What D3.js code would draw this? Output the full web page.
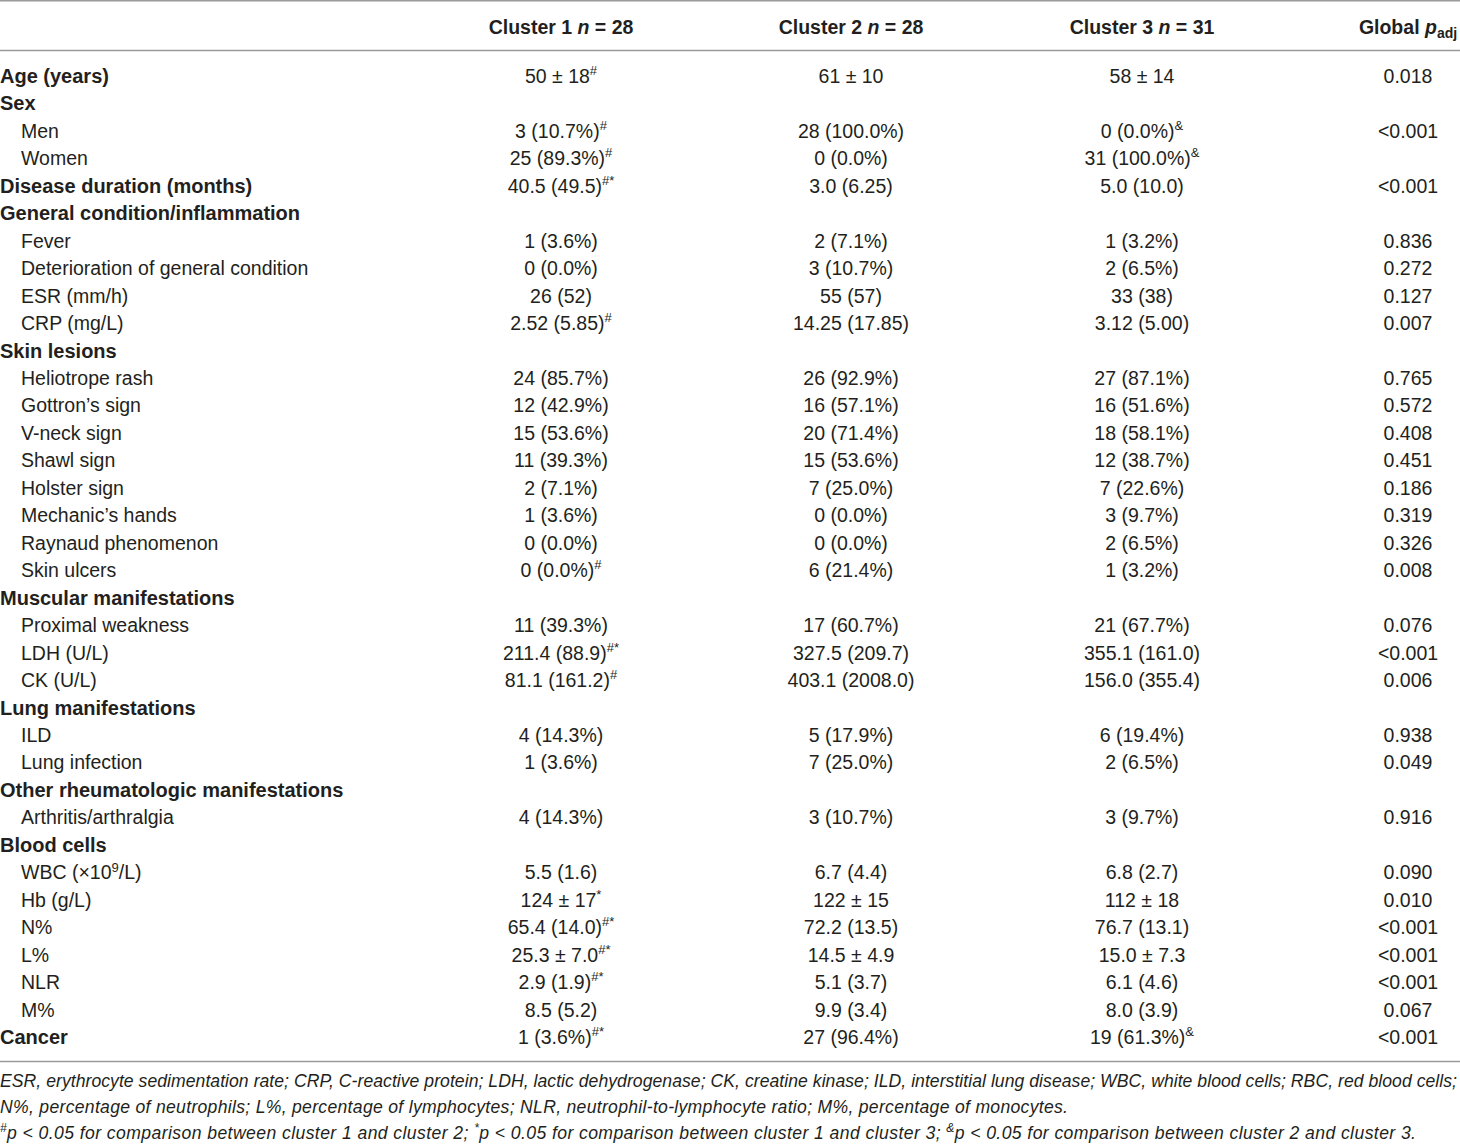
<!DOCTYPE html>
<html>
    <head>
        <title>Cluster table</title>
        <meta charset="utf-8" />
        <script src="https://d3js.org/d3.v7.min.js"></script>
        <style>
            body { margin: 0; background: #fff; }
            svg { display: block; font-family: 'Liberation Sans', Arial, sans-serif; }
        </style>
    </head>
    <body>
        <svg class="table"></svg>
        <script>
            // row labels, 0 = section heading, 1 = sub item
            const rowLabels = [
                'Age (years)', 'Sex', 'Men', 'Women', 'Disease duration (months)',
                'General condition/inflammation', 'Fever', 'Deterioration of general condition',
                'ESR (mm/h)', 'CRP (mg/L)', 'Skin lesions', 'Heliotrope rash', 'Gottron\u2019s sign',
                'V-neck sign', 'Shawl sign', 'Holster sign', 'Mechanic\u2019s hands',
                'Raynaud phenomenon', 'Skin ulcers', 'Muscular manifestations', 'Proximal weakness',
                'LDH (U/L)', 'CK (U/L)', 'Lung manifestations', 'ILD', 'Lung infection',
                'Other rheumatologic manifestations', 'Arthritis/arthralgia', 'Blood cells',
                'WBC (\u00d710^9/L)', 'Hb (g/L)', 'N%', 'L%', 'NLR', 'M%', 'Cancer'
            ]
            const rowLevels = [0, 0, 1, 1, 0, 0, 1, 1, 1, 1, 0, 1, 1, 1, 1, 1, 1, 1, 1, 0, 1, 1, 1, 0, 1, 1, 0, 1, 0, 1, 1, 1, 1, 1, 1, 0]

            // "^" marks superscript part
            const cluster1 = [
                '50 \u00b1 18^#', '', '3 (10.7%)^#', '25 (89.3%)^#', '40.5 (49.5)^#*',
                '', '1 (3.6%)', '0 (0.0%)', '26 (52)', '2.52 (5.85)^#',
                '', '24 (85.7%)', '12 (42.9%)', '15 (53.6%)', '11 (39.3%)', '2 (7.1%)',
                '1 (3.6%)', '0 (0.0%)', '0 (0.0%)^#', '', '11 (39.3%)', '211.4 (88.9)^#*',
                '81.1 (161.2)^#', '', '4 (14.3%)', '1 (3.6%)', '', '4 (14.3%)', '',
                '5.5 (1.6)', '124 \u00b1 17^*', '65.4 (14.0)^#*', '25.3 \u00b1 7.0^#*',
                '2.9 (1.9)^#*', '8.5 (5.2)', '1 (3.6%)^#*'
            ]
            const cluster2 = [
                '61 \u00b1 10', '', '28 (100.0%)', '0 (0.0%)', '3.0 (6.25)',
                '', '2 (7.1%)', '3 (10.7%)', '55 (57)', '14.25 (17.85)',
                '', '26 (92.9%)', '16 (57.1%)', '20 (71.4%)', '15 (53.6%)', '7 (25.0%)',
                '0 (0.0%)', '0 (0.0%)', '6 (21.4%)', '', '17 (60.7%)', '327.5 (209.7)',
                '403.1 (2008.0)', '', '5 (17.9%)', '7 (25.0%)', '', '3 (10.7%)', '',
                '6.7 (4.4)', '122 \u00b1 15', '72.2 (13.5)', '14.5 \u00b1 4.9',
                '5.1 (3.7)', '9.9 (3.4)', '27 (96.4%)'
            ]
            const cluster3 = [
                '58 \u00b1 14', '', '0 (0.0%)^&', '31 (100.0%)^&', '5.0 (10.0)',
                '', '1 (3.2%)', '2 (6.5%)', '33 (38)', '3.12 (5.00)',
                '', '27 (87.1%)', '16 (51.6%)', '18 (58.1%)', '12 (38.7%)', '7 (22.6%)',
                '3 (9.7%)', '2 (6.5%)', '1 (3.2%)', '', '21 (67.7%)', '355.1 (161.0)',
                '156.0 (355.4)', '', '6 (19.4%)', '2 (6.5%)', '', '3 (9.7%)', '',
                '6.8 (2.7)', '112 \u00b1 18', '76.7 (13.1)', '15.0 \u00b1 7.3',
                '6.1 (4.6)', '8.0 (3.9)', '19 (61.3%)^&'
            ]
            const pAdj = [
                '0.018', '', '<0.001', '', '<0.001',
                '', '0.836', '0.272', '0.127', '0.007',
                '', '0.765', '0.572', '0.408', '0.451', '0.186',
                '0.319', '0.326', '0.008', '', '0.076', '<0.001',
                '0.006', '', '0.938', '0.049', '', '0.916', '',
                '0.090', '0.010', '<0.001', '<0.001',
                '<0.001', '0.067', '<0.001'
            ]

            const columns = ['c1', 'c2', 'c3', 'p']
            const columnTitles = [
                ['Cluster 1 ', 'n', ' = 28'],
                ['Cluster 2 ', 'n', ' = 28'],
                ['Cluster 3 ', 'n', ' = 31'],
                ['Global ', 'p', 'adj']
            ]
            const footnotes = [
                'ESR, erythrocyte sedimentation rate; CRP, C-reactive protein; LDH, lactic dehydrogenase; CK, creatine kinase; ILD, interstitial lung disease; WBC, white blood cells; RBC, red blood cells;',
                'N%, percentage of neutrophils; L%, percentage of lymphocytes; NLR, neutrophil-to-lymphocyte ratio; M%, percentage of monocytes.',
                '^#p < 0.05 for comparison between cluster 1 and cluster 2; ^*p < 0.05 for comparison between cluster 1 and cluster 3; ^&p < 0.05 for comparison between cluster 2 and cluster 3.'
            ]
            // line lengths the footnotes run to in the source
            const footWidths = [1457, 1068, 1416]

            const W = 1460
            const H = 1144
            const ink = '#231f20'
            const rule = '#9a9a9a'

            const svg = d3.select('svg.table').attr('width', W).attr('height', H)

            const xCol = d3.scaleOrdinal().domain(columns).range([561, 851, 1142, 1408])
            const yRow = d3.scaleLinear().domain([0, rowLabels.length - 1]).range([83, 1044])
            const yFoot = d3.scaleLinear().domain([0, 2]).range([1087, 1139])

            // horizontal rules
            svg.selectAll('line.rule')
                .data([0.8, 50.5, 1061.5])
                .enter()
                .append('line')
                .attr('class', 'rule')
                .attr('x1', 0)
                .attr('x2', W)
                .attr('y1', (d) => d)
                .attr('y2', (d) => d)
                .style('stroke', rule)
                .style('stroke-width', '1.6px')

            // header
            const head = svg.selectAll('text.head')
                .data(columnTitles)
                .enter()
                .append('text')
                .attr('class', 'head')
                .attr('x', (d, i) => xCol(columns[i]))
                .attr('y', 34)
                .attr('text-anchor', 'middle')
                .style('font-size', '19.5px')
                .style('font-weight', 'bold')
                .style('fill', ink)
            head.append('tspan').text((d) => d[0])
            head.append('tspan').style('font-style', 'italic').text((d) => d[1])
            head.append('tspan')
                .attr('baseline-shift', (d, i) => (i === 3 ? '-4' : null))
                .style('font-size', (d, i) => (i === 3 ? '14px' : null))
                .text((d) => d[2])

            // write "a^b" as text + superscript
            function fillSup(sel, supSize, shift) {
                sel.each(function (d) {
                    const t = d3.select(this)
                    const parts = d.split('^')
                    t.append('tspan').text(parts[0])
                    if (parts.length > 1) {
                        const m = parts[1].match(/^([#*&9]+)(.*)$/)
                        t.append('tspan')
                            .attr('baseline-shift', shift)
                            .style('font-size', supSize)
                            .text(m[1])
                        if (m[2]) t.append('tspan').text(m[2])
                    }
                })
            }

            // row labels
            svg.selectAll('text.label')
                .data(rowLabels)
                .enter()
                .append('text')
                .attr('class', 'label')
                .attr('x', (d, i) => (rowLevels[i] ? 21 : 0))
                .attr('y', (d, i) => yRow(i))
                .style('font-size', (d, i) => (rowLevels[i] ? '19.5px' : '20px'))
                .style('font-weight', (d, i) => (rowLevels[i] ? 'normal' : 'bold'))
                .style('fill', ink)
                .call(fillSup, '13px', '7')

            // value cells
            const cells = []
            ;[cluster1, cluster2, cluster3, pAdj].forEach((arr, c) => {
                arr.forEach((v, r) => {
                    if (v) cells.push({ col: columns[c], row: r, v: v })
                })
            })
            svg.selectAll('text.cell')
                .data(cells)
                .enter()
                .append('text')
                .attr('class', 'cell')
                .attr('x', (d) => xCol(d.col))
                .attr('y', (d) => yRow(d.row))
                .attr('text-anchor', 'middle')
                .style('font-size', '19.5px')
                .style('fill', ink)
                .each(function (d) {
                    d3.select(this).datum(d.v).call(fillSup, '13px', '8')
                })

            // footnotes
            const foot = svg.selectAll('text.foot')
                .data(footnotes)
                .enter()
                .append('text')
                .attr('class', 'foot')
                .attr('x', 0)
                .attr('y', (d, i) => yFoot(i))
                .attr('textLength', (d, i) => footWidths[i])
                .attr('lengthAdjust', 'spacing')
                .style('font-size', '17.6px')
                .style('font-style', 'italic')
                .style('fill', ink)
            foot.each(function (d) {
                const t = d3.select(this)
                d.split(/(\^[#*&])/).forEach((s) => {
                    if (!s) return
                    if (s[0] === '^') {
                        t.append('tspan').attr('baseline-shift', '7').style('font-size', '12px').text(s.slice(1))
                    } else {
                        t.append('tspan').text(s)
                    }
                })
            })
        </script>
    </body>
</html>
